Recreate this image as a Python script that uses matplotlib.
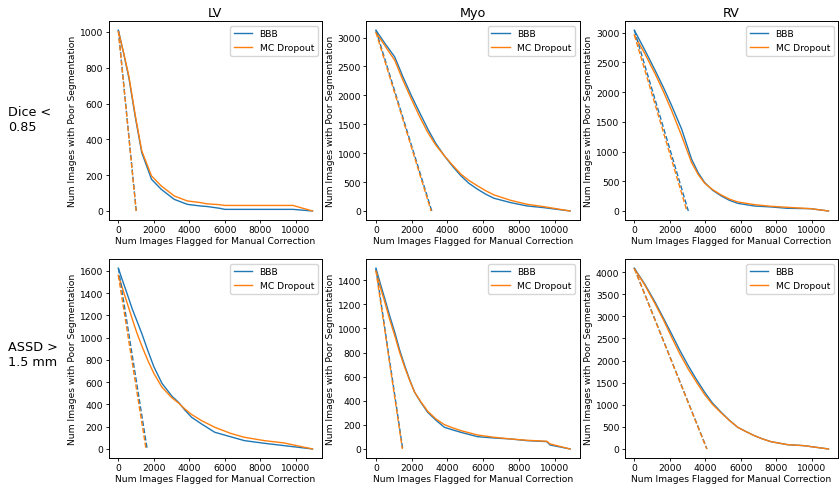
import matplotlib
matplotlib.use("Agg")
import matplotlib.pyplot as plt

# x = num images flagged, y = num images with poor segmentation
lv_dice_x = [0, 300, 590, 960, 1320, 1870, 2420, 3150, 3890, 4620, 5000, 5720, 6000, 9850, 10950]
lv_dice_bbb = [1010, 880, 746, 522, 326, 177, 121, 65, 37, 28, 25, 15, 9, 9, 0]
lv_dice_mc = [1005, 882, 755, 531, 336, 196, 140, 84, 56, 47, 40, 35, 31, 31, 0]

lv_assd_x = [0, 200, 420, 780, 1050, 1340, 1650, 2000, 2460, 3020, 3390, 3750, 4130, 4690, 5440, 6370, 7110, 8230, 9350, 10950]
lv_assd_bbb = [1625, 1530, 1430, 1260, 1150, 1030, 890, 740, 590, 475, 420, 350, 285, 225, 150, 108, 75, 51, 30, 0]
lv_assd_mc = [1560, 1460, 1350, 1170, 1040, 920, 800, 680, 555, 460, 414, 360, 310, 255, 195, 138, 105, 75, 54, 0]

myo_dice_x = [0, 500, 1055, 1500, 1980, 2450, 2900, 3350, 3830, 4300, 4760, 5200, 5690, 6150, 6610, 7540, 8460, 9390, 10870]
myo_dice_bbb = [3127, 2900, 2663, 2330, 1998, 1700, 1420, 1170, 955, 770, 608, 480, 376, 290, 220, 145, 87, 58, 0]
myo_dice_mc = [3090, 2860, 2605, 2270, 1940, 1630, 1360, 1140, 955, 790, 637, 530, 434, 350, 278, 185, 116, 75, 0]

myo_assd_x = [0, 250, 500, 780, 1055, 1330, 1610, 1900, 2170, 2500, 2900, 3350, 3830, 4300, 4760, 5690, 6610, 7540, 8460, 9570, 9750, 10870]
myo_assd_bbb = [1500, 1370, 1245, 1100, 968, 820, 692, 570, 470, 390, 304, 240, 180, 158, 138, 102, 91, 83, 69, 61, 33, 0]
myo_assd_mc = [1480, 1340, 1217, 1070, 940, 800, 678, 565, 470, 395, 313, 250, 202, 175, 152, 116, 97, 83, 72, 64, 42, 0]

rv_dice_x = [0, 600, 1170, 1650, 2100, 2660, 3220, 3600, 3960, 4400, 4890, 5350, 5820, 6750, 7680, 8610, 9910, 10930]
rv_dice_bbb = [3040, 2700, 2364, 2070, 1773, 1379, 872, 640, 478, 350, 253, 180, 129, 84, 68, 45, 39, 0]
rv_dice_mc = [2960, 2640, 2307, 2000, 1688, 1266, 816, 610, 467, 360, 270, 200, 152, 107, 79, 62, 39, 0]

rv_assd_x = [0, 600, 1170, 1650, 2100, 2550, 3030, 3500, 3960, 4400, 4890, 5350, 5820, 6300, 6750, 7200, 7680, 8610, 9540, 10930]
rv_assd_bbb = [4090, 3720, 3320, 2950, 2600, 2240, 1887, 1570, 1283, 1040, 830, 650, 490, 390, 302, 230, 166, 98, 75, 0]
rv_assd_mc = [4080, 3700, 3283, 2910, 2528, 2160, 1811, 1510, 1230, 1010, 815, 645, 490, 390, 302, 230, 166, 98, 75, 0]

structures = ["LV", "Myo", "RV"]
row_labels = ["Dice <\n0.85", "ASSD >\n1.5 mm"]
panels = [
    [(lv_dice_x, lv_dice_bbb, lv_dice_mc), (myo_dice_x, myo_dice_bbb, myo_dice_mc), (rv_dice_x, rv_dice_bbb, rv_dice_mc)],
    [(lv_assd_x, lv_assd_bbb, lv_assd_mc), (myo_assd_x, myo_assd_bbb, myo_assd_mc), (rv_assd_x, rv_assd_bbb, rv_assd_mc)],
]

fs = 6.6
plt.rcParams['font.size'] = fs
plt.rcParams['axes.linewidth'] = 0.7
plt.rcParams['xtick.major.size'] = 2.3
plt.rcParams['ytick.major.size'] = 2.3
plt.rcParams['xtick.major.width'] = 0.6
plt.rcParams['ytick.major.width'] = 0.6

fig = plt.figure(figsize=(8.39, 4.85), dpi=100)

lefts = [0.1295, 0.4365, 0.7445]
bottoms = [0.5443, 0.0536]
w, h = 0.2545, 0.410
label_y = [0.7526, 0.268]

for r in range(2):
    for c in range(3):
        ax = fig.add_axes([lefts[c], bottoms[r], w, h])
        x, bbb, mc = panels[r][c]
        ax.plot(x, bbb, color='C0', lw=1.0, label='BBB')
        ax.plot(x, mc, color='C1', lw=1.0, label='MC Dropout')
        # ideal line: flag exactly the poorly segmented images
        ax.plot([0, bbb[0]], [bbb[0], 0], color='C0', ls='--', lw=1.0)
        ax.plot([0, mc[0]], [mc[0], 0], color='C1', ls='--', lw=1.0)
        ax.set_xlabel("Num Images Flagged for Manual Correction", fontsize=fs, labelpad=1)
        ax.set_ylabel("Num Images with Poor Segmentation", fontsize=fs, labelpad=2)
        ax.tick_params(labelsize=fs, pad=1.5)
        ax.legend(loc='upper right', fontsize=fs)
        if r == 0:
            ax.set_title(structures[c], fontsize=9.2, pad=4)
    fig.text(0.0095, label_y[r], row_labels[r], fontsize=9.2, va='center', ha='left')

fig.savefig("out.png", dpi=100)
